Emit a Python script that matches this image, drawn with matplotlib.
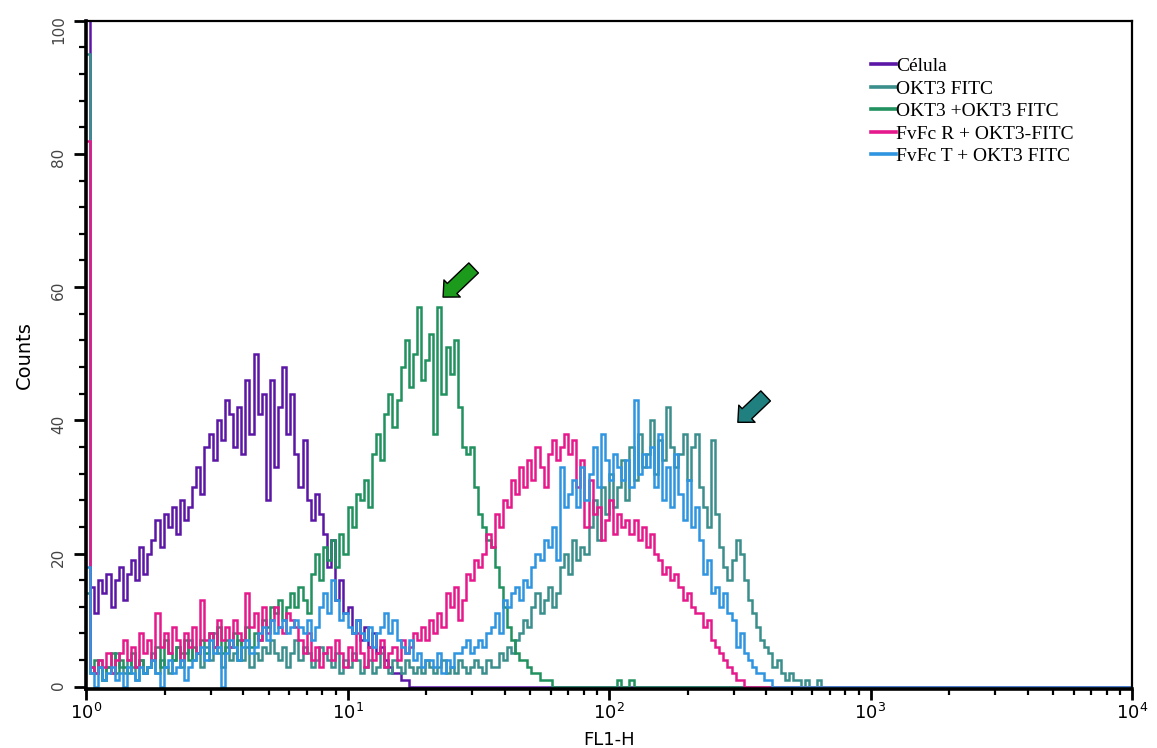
import numpy as np
import matplotlib
matplotlib.use("Agg")
import matplotlib.pyplot as plt
from matplotlib.lines import Line2D
from matplotlib.ticker import MultipleLocator, FixedLocator, LogLocator, NullFormatter

# --- channel layout: 256 log channels, 64 per decade (10^0 .. 10^4) ---
N_CH = 256
CH_PER_DECADE = 64

labels = ['Célula', 'OKT3 FITC', 'OKT3 +OKT3 FITC',
          'FvFc R + OKT3-FITC', 'FvFc T + OKT3 FITC']
colors = ['#5B16A6', '#3A8F8C', '#20915F', '#E6198C', '#2F95E0']

# counts per channel (channels after the list are 0)
celula = [120, 15, 11,
          16, 14, 17, 12, 16, 18, 13,
          17, 19, 16, 21, 17,
          20, 22, 25, 21, 26,
          24, 27, 23, 28, 25,
          27, 30, 33,
          29, 36, 38,
          34, 40, 37, 43, 41,
          36, 42, 35, 46,
          38, 50,
          41, 44, 28, 46,
          33, 42, 48, 38,
          44, 35, 30,
          37, 28, 25, 29,
          26, 23, 18,
          22, 13, 16,
          11, 12, 8, 10,
          7, 9, 6, 8, 5,
          6, 4, 3, 2, 2,
          1, 1]

okt3_fitc = [95,
             3, 2, 4, 1, 3, 2, 5, 3, 2, 4, 3, 1, 4, 2, 3, 5, 2, 4, 3, 2,
             4, 6, 3, 5, 7, 4, 5, 3, 6, 4, 8, 5, 3, 6, 4, 5, 7, 4, 6, 3, 5, 4, 6, 5, 7,
             5, 4, 6, 3, 5, 7, 4, 6, 5, 3, 4, 6, 5, 4, 3, 5, 2, 4, 3, 5, 4, 2, 3, 4, 2,
             3, 5, 3, 2, 4, 3, 2, 4, 3, 2,
             3, 2, 4, 3, 2, 3, 4, 2, 3, 2, 4, 3, 2, 3, 4, 3, 2, 4, 3,
             3, 5, 4, 6, 5, 7,
             8, 10, 9, 12, 14, 11, 13, 15, 12, 14,
             18, 20, 17, 22, 19, 21, 20,
             24, 28, 22, 30, 26, 32, 27,
             30, 34, 28, 36, 31, 38, 33, 35, 40, 32, 37, 34, 42, 36, 33,
             35, 38, 31, 36, 38,
             30, 27, 24, 37, 26,
             21, 18, 16,
             19, 22, 20,
             16, 13, 11,
             9, 7, 6,
             5, 3, 4, 2,
             1, 2, 1, 1,
             0, 1, 0, 0, 1]

okt3_okt3_fitc = [14,
                  2, 4, 3, 1, 3, 5, 2, 4, 3, 2, 5, 3, 4, 2, 3,
                  4, 6, 3, 7, 5, 4, 6, 5, 7, 4, 6, 5,
                  7, 5, 8, 6, 9, 5, 7, 6, 8, 4, 7, 9, 6, 8, 7,
                  10, 9, 12, 11, 13, 10, 12,
                  14, 12, 15, 13, 11,
                  17, 20, 16, 21, 19,
                  22, 18, 23, 20,
                  27, 24, 29,
                  28, 31, 27,
                  35, 38, 34,
                  41, 44, 39, 43,
                  48, 52, 45,
                  50, 57, 46, 49, 53, 38, 57, 44, 51, 47,
                  52, 42,
                  36, 35, 36,
                  30, 26,
                  24, 22, 21,
                  18, 15,
                  12, 9,
                  7, 5, 4,
                  4, 3, 2,
                  2, 1, 1, 1, 0,
                  0, 0, 0, 0, 0, 0, 0, 0, 0, 0, 0, 0, 0, 0, 0,
                  1, 0, 0, 1]

fvfc_r = [82,
          3, 2, 4, 3, 5, 2, 4,
          5, 7, 4, 6, 3, 8, 5, 7, 4, 11,
          6, 8, 5, 9, 7, 4, 8, 6, 9, 5, 13, 7,
          8, 6, 10, 7, 9, 6, 10, 8, 7, 14,
          9, 11, 7, 12, 8, 10, 12, 9, 8, 11, 10, 9,
          7, 5, 8, 4, 6, 3, 5,
          6, 4, 7, 5, 3, 6, 4, 8, 5, 3, 6, 4, 5, 7, 3, 5, 6, 4, 7, 5, 6, 8, 7,
          9, 7, 10, 8,
          11, 9, 14, 12, 15, 10, 13,
          17, 16, 19, 18, 20,
          23, 21, 26, 24, 28,
          27, 31, 29, 33, 30,
          34, 31, 36, 33, 30, 35, 37, 34,
          36, 38, 35, 37,
          30, 34, 24, 31, 26,
          27, 22, 25, 28, 23, 26, 24, 25,
          23, 25, 22, 24, 21, 23, 20,
          19, 17, 18, 16, 17,
          15, 13, 14, 12, 11,
          11, 9, 10, 7, 6,
          5, 4, 3, 2,
          1, 1]

fvfc_t = [18,
          2, 0, 3, 1, 2, 3, 1, 2, 0, 3, 2, 1, 3, 2,
          3, 4, 2, 0, 3, 4, 2, 3, 4, 1, 3, 4,
          5, 6, 4, 7, 5, 6, 0, 5, 7, 6, 4, 6, 7, 5, 6,
          8, 9, 7, 10, 8, 9, 10, 8, 9, 10,
          9, 8, 10, 7, 9,
          12, 14, 11, 16, 13,
          10, 11, 9, 8, 10,
          8, 7, 9, 6, 8,
          9, 11, 8, 10, 7,
          6, 5, 7, 4, 5, 3, 4,
          4, 3, 5, 2, 4, 3, 5,
          5, 6, 7, 5, 6, 7, 6, 8,
          9, 11, 8, 13, 12,
          14, 15, 13, 16, 15,
          18, 20, 19, 22, 21,
          24, 19, 33, 27,
          29, 31, 27, 33, 28,
          32, 36, 30, 38, 34, 31, 35,
          33, 31, 34, 30, 43, 32, 35, 33,
          36, 30, 38, 28, 33, 27, 35,
          29, 25, 31, 24, 27,
          22, 17, 19, 14,
          15, 12, 14, 11,
          10, 6, 8,
          5, 4, 3, 2,
          2, 1, 1]

series = [celula, okt3_fitc, okt3_okt3_fitc, fvfc_r, fvfc_t]


def pad(v):
    return np.array(v + [0] * (N_CH - len(v)), dtype=float)


edges = 10 ** (np.arange(N_CH + 1) / CH_PER_DECADE)

fig = plt.figure(figsize=(11.57, 7.48), dpi=100)
ax = fig.add_axes([86 / 1157, 1 - 689.4 / 748, 1046 / 1157, 668.7 / 748])

for vals, col in zip(series, colors):
    ax.stairs(pad(vals), edges, color=col, lw=1.8, baseline=None)

ax.set_xscale('log')
ax.set_xlim(1, 1e4)
ax.set_ylim(-0.4, 100)

# axes / ticks
for side in ['left', 'bottom']:
    ax.spines[side].set_linewidth(2.6)
for side in ['top', 'right']:
    ax.spines[side].set_linewidth(1.6)

ax.xaxis.set_major_locator(FixedLocator([1, 10, 100, 1000, 10000]))
ax.set_xticklabels([r'$10^{0}$', r'$10^{1}$', r'$10^{2}$', r'$10^{3}$', r'$10^{4}$'],
                   fontsize=13)
ax.xaxis.set_minor_locator(LogLocator(base=10, subs=np.arange(2, 10)))
ax.xaxis.set_minor_formatter(NullFormatter())

ax.yaxis.set_major_locator(FixedLocator([0, 20, 40, 60, 80, 100]))
ax.yaxis.set_minor_locator(MultipleLocator(4))
ax.set_yticklabels(['0', '20', '40', '60', '80', '100'], rotation=90,
                   fontsize=11, color='#444444')

ax.tick_params(axis='x', which='major', length=8, width=2, pad=2)
ax.tick_params(axis='x', which='minor', length=4.5, width=1.6)
ax.tick_params(axis='y', which='major', length=8.5, width=2, pad=6)
ax.tick_params(axis='y', which='minor', length=5, width=1.6)

ax.set_xlabel('FL1-H', fontsize=13)
ax.xaxis.set_label_coords(0.5, -0.062)
ax.set_ylabel('Counts', fontsize=14)
ax.yaxis.set_label_coords(-0.05, 0.5)

# legend
handles = [Line2D([0], [0], color=c, lw=2.6) for c in colors]
ax.legend(handles, labels, loc='upper left', bbox_to_anchor=(0.75, 0.945),
          frameon=False, borderaxespad=0, borderpad=0,
          handlelength=1.3, handletextpad=0.0, labelspacing=0.25,
          prop={'family': 'Liberation Serif', 'size': 14})

# arrows marking the peaks
ax.annotate('', xy=(23.2, 58.5), xytext=(22, 21), textcoords='offset points',
            arrowprops=dict(arrowstyle='simple,head_length=0.9,head_width=1.7,tail_width=1.0',
                            fc='#1C9A1C', ec='black', lw=1, shrinkA=0, shrinkB=0,
                            mutation_scale=10))
ax.annotate('', xy=(311, 39.7), xytext=(20, 19), textcoords='offset points',
            arrowprops=dict(arrowstyle='simple,head_length=0.9,head_width=1.7,tail_width=1.0',
                            fc='#207F7F', ec='black', lw=1, shrinkA=0, shrinkB=0,
                            mutation_scale=10))

fig.savefig('out.png', dpi=100)
